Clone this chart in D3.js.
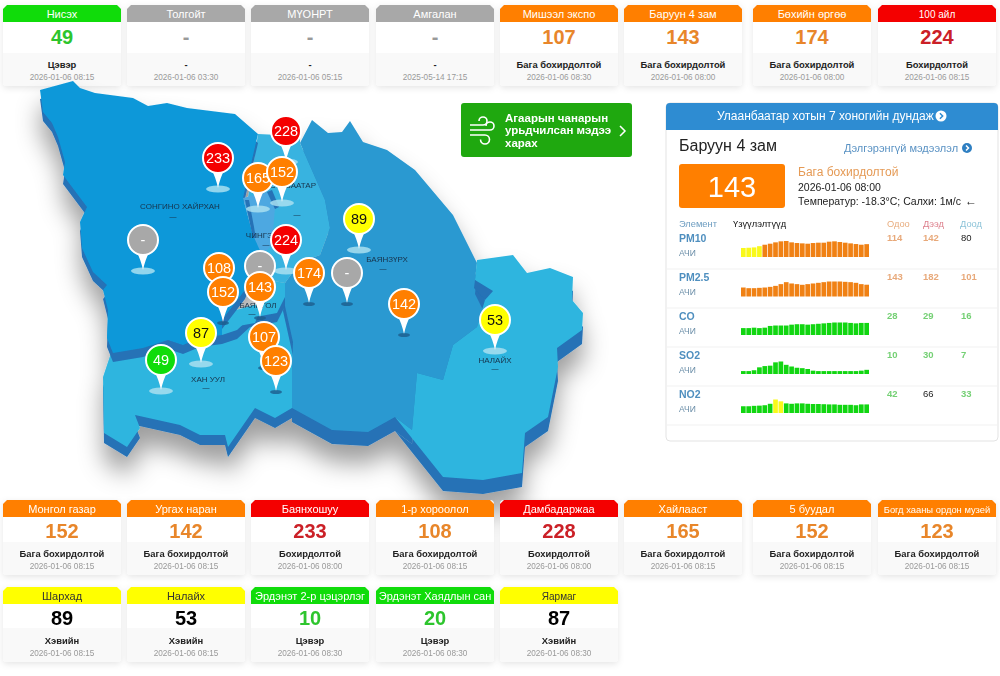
<!DOCTYPE html>
<html>
<head>
<meta charset="utf-8">
<title>Агаарын чанар</title>
<script src="https://cdn.jsdelivr.net/npm/d3@7"></script>
<style>
	html, body { margin: 0; padding: 0; background: #fff; overflow: hidden; }
	svg { display: block; }
	text { font-family: "Liberation Sans", Arial, sans-serif; }
</style>
</head>
<body>
<div id="div_id_main"></div>
<script>

// stations, as the cards read left to right, top to bottom
const g_dsNames = ["Нисэх", "Толгойт", "МҮОНРТ", "Амгалан", "Мишээл экспо", "Баруун 4 зам", "Бөхийн өргөө", "100 айл",
	"Монгол газар", "Ургах наран", "Баянхошуу", "1-р хороолол", "Дамбадаржаа", "Хайлааст", "5 буудал", "Богд хааны ордон музей",
	"Шархад", "Налайх", "Эрдэнэт 2-р цэцэрлэг", "Эрдэнэт Хаядлын сан", "Яармаг"];
const g_dsValues = ["49", "-", "-", "-", "107", "143", "174", "224",
	"152", "142", "233", "108", "228", "165", "152", "123",
	"89", "53", "10", "20", "87"];
const g_dsStatus = ["Цэвэр", "-", "-", "-", "Бага бохирдолтой", "Бага бохирдолтой", "Бага бохирдолтой", "Бохирдолтой",
	"Бага бохирдолтой", "Бага бохирдолтой", "Бохирдолтой", "Бага бохирдолтой", "Бохирдолтой", "Бага бохирдолтой", "Бага бохирдолтой", "Бага бохирдолтой",
	"Хэвийн", "Хэвийн", "Цэвэр", "Цэвэр", "Хэвийн"];
const g_dsTimes = ["2026-01-06 08:15", "2026-01-06 03:30", "2026-01-06 05:15", "2025-05-14 17:15", "2026-01-06 08:30", "2026-01-06 08:00", "2026-01-06 08:00", "2026-01-06 08:15",
	"2026-01-06 08:15", "2026-01-06 08:15", "2026-01-06 08:00", "2026-01-06 08:15", "2026-01-06 08:00", "2026-01-06 08:15", "2026-01-06 08:15", "2026-01-06 08:15",
	"2026-01-06 08:15", "2026-01-06 08:15", "2026-01-06 08:30", "2026-01-06 08:30", "2026-01-06 08:30"];

// elements of the side table
const g_dsElements = ["PM10", "PM2.5", "CO", "SO2", "NO2"];
const g_dsNow = [114, 143, 28, 10, 42];
const g_dsHigh = [142, 182, 29, 30, 66];
const g_dsLow = [80, 101, 16, 7, 33];
const g_dsPM10 = [80, 82, 85, 96, 109, 118, 130, 139, 142, 130, 124, 121, 118, 124, 127, 127, 136, 139, 133, 127, 121, 115, 109, 114];
const g_dsPM25 = [109, 101, 101, 105, 109, 117, 129, 150, 174, 158, 150, 142, 150, 158, 166, 174, 182, 182, 182, 178, 174, 166, 150, 143];
const g_dsCO = [16, 16, 17, 16, 17, 21, 22, 22, 22, 24, 25, 25, 24, 25, 26, 27, 28, 29, 29, 29, 28, 27, 28, 28];
const g_dsSO2 = [7, 7, 9, 16, 19, 20, 28, 30, 22, 18, 15, 14, 12, 8, 7, 7, 7, 7, 7, 7, 7, 7, 8, 10];
const g_dsNO2 = [33, 33, 35, 36, 38, 45, 66, 57, 47, 45, 47, 47, 45, 44, 44, 43, 42, 42, 40, 40, 40, 38, 42, 42];

// map pins: value, then x and y of the pin tip in map units
const g_dsPinValues = ["228", "233", "165", "152", "-", "224", "89", "108", "-", "174", "-", "143", "152", "142", "53", "87", "107", "49", "123"];
const g_dsPinX = [286, 218, 258, 282, 143, 286, 359, 219, 260, 309, 347, 260, 223, 404, 495, 201, 264, 161, 276];
const g_dsPinY = [161, 188, 208, 202, 270, 270, 249, 298, 296, 303, 303, 317, 322, 334, 350, 363, 367, 390, 391];

// district outlines, in map units
const g_dsKhanUul = [[112, 350], [103, 377], [104, 433], [127, 447], [140, 428], [135, 415], [180, 425], [200, 435], [225, 435], [228, 447], [255, 408], [275, 418], [292, 408], [297, 337], [283, 297], [200, 320]];
const g_dsBayanzurkh = [[312, 120], [328, 133], [342, 132], [350, 121], [363, 142], [387, 150], [415, 170], [453, 215], [477, 263], [475, 280], [485, 300], [477, 327], [453, 345], [443, 380], [417, 373], [412, 430], [395, 417], [368, 432], [332, 430], [292, 408], [292, 370], [293, 342], [283, 297], [285, 283], [300, 262], [320, 255], [330, 228], [325, 200], [300, 143]];
const g_dsNalaikh = [[477, 260], [513, 255], [527, 273], [550, 268], [573, 277], [572, 300], [583, 313], [582, 330], [557, 348], [558, 367], [548, 417], [525, 433], [522, 473], [483, 480], [443, 477], [395, 417], [412, 430], [417, 373], [443, 380], [453, 345], [477, 327], [485, 300], [475, 280]];
const g_dsSukhbaatar = [[258, 134], [300, 136], [300, 143], [325, 200], [330, 228], [320, 255], [300, 262], [285, 283], [268, 280], [262, 250], [247, 205]];
const g_dsBayangol = [[222, 320], [255, 314], [268, 280], [285, 283], [285, 297], [277, 313], [250, 318], [237, 330], [222, 335]];
const g_dsSongino = [[40, 90], [73, 81], [80, 88], [95, 93], [133, 98], [148, 106], [167, 103], [187, 108], [235, 114], [258, 134], [243, 198], [253, 235], [262, 250], [245, 290], [222, 320], [222, 335], [200, 338], [183, 345], [168, 340], [143, 348], [113, 353], [107, 338], [108, 310], [103, 290], [107, 285], [93, 272], [82, 248], [80, 222], [87, 207], [63, 175], [65, 162], [58, 137], [52, 123], [43, 112]];
const g_dsChingeltei = [[243, 198], [267, 192], [275, 207], [272, 245], [262, 255], [253, 235]];
const g_dsRidges = [
	[[475, 280], [493, 291], [485, 300], [474, 288]],
	[[245, 200], [249, 200], [256, 238], [253, 238]],
	[[267, 192], [272, 190], [279, 207], [275, 209]]
];

const g_dsPlaceNames = ["СОНГИНО ХАЙРХАН", "ХАН УУЛ", "БАЯНГОЛ", "СҮХБААТАР", "ЧИНГЭЛТЭЙ", "БАЯНЗҮРХ", "НАЛАЙХ"];
const g_dsPlaceX = [180, 208, 258, 293, 270, 387, 495];
const g_dsPlaceY = [206, 379, 305, 185, 235, 259, 360];
const g_dsPlaceDashX = [173, 206, 252, 297, 266, 383, 495];
const g_dsPlaceDashY = [217, 388, 314, 215, 245, 269, 369];

// layout -------------------------------------------------------------------

const CARD_LEFT = [3, 127, 251, 376, 500, 624, 753, 878];
const CARD_WIDTH = 118;
const ROW_TOP = [5, 500, 587];
const ROW_MIDDLE = [48, 42, 41];
const ROW_HEIGHT = [81, 75, 75];
const ROW_VALUE = [39, 38, 38];
const SPARK_BOTTOM = [257, 296.5, 335, 374, 413];
const SPARK_HEIGHT = [16, 15, 12.5, 12.5, 13.5];
const ROW_Y = [238, 277, 316, 355, 394];

const COLOR_GREEN = "#10dc0a";
const COLOR_YELLOW = "#ffff00";
const COLOR_ORANGE = "#ff7f00";
const COLOR_RED = "#f40000";
const COLOR_GRAY = "#a8a8a8";

function funcGetColor(sValue) {

	if (sValue == "-") return COLOR_GRAY;

	let n = +sValue;

	if (n <= 50) return COLOR_GREEN;
	if (n <= 100) return COLOR_YELLOW;
	if (n <= 200) return COLOR_ORANGE;

	return COLOR_RED;
}

function funcGetTextColor(sValue) {

	if (sValue == "-") return "#999";

	let n = +sValue;

	if (n <= 50) return "#2dc52d";
	if (n <= 100) return "#000";
	if (n <= 200) return "#e8862a";

	return "#cb2027";
}

function funcGetCardRow(i) {

	return i < 8 ? 0 : (i < 16 ? 1 : 2);
}

const svgMain = d3.select("#div_id_main")
	.append("svg")
		.attr("id", "svg_id_main")
		.attr("width", 1000)
		.attr("height", 676);

const defs = svgMain.append("defs");

defs.append("filter")
		.attr("id", "filter_card")
		.attr("x", "-10%").attr("y", "-10%").attr("width", "120%").attr("height", "125%")
	.append("feDropShadow")
		.attr("dx", 0).attr("dy", 2).attr("stdDeviation", 3)
		.attr("flood-color", "#000").attr("flood-opacity", 0.1);

defs.append("filter")
		.attr("id", "filter_map")
		.attr("x", "-15%").attr("y", "-15%").attr("width", "130%").attr("height", "140%")
	.append("feDropShadow")
		.attr("dx", 0).attr("dy", 18).attr("stdDeviation", 12)
		.attr("flood-color", "#000").attr("flood-opacity", 0.38);

// map ----------------------------------------------------------------------

const fScale_MapX = d3.scaleLinear().domain([30, 590]).range([30, 590]);
const fScale_MapY = d3.scaleLinear().domain([80, 490]).range([80, 490]);

const fLine_Map = d3.line()
	.x(function(d) { return fScale_MapX(d[0]); })
	.y(function(d) { return fScale_MapY(d[1]); })
	.curve(d3.curveLinearClosed);

function funcDraw_Map() {

	let gMap = svgMain.append("g")
		.attr("id", "g_id_map")
		.attr("filter", "url(#filter_map)");

	let vRegions = [
		{ shape: g_dsKhanUul, fill: "#2fb5df", depth: 10 },
		{ shape: g_dsBayanzurkh, fill: "#2c99d1", depth: 14 },
		{ shape: g_dsNalaikh, fill: "#2fb5df", depth: 14 },
		{ shape: g_dsSukhbaatar, fill: "#37b3e0", depth: 0 },
		{ shape: g_dsBayangol, fill: "#2fb5df", depth: 9 },
		{ shape: g_dsSongino, fill: "#0f98d9", depth: 9 },
		{ shape: g_dsChingeltei, fill: "#4ea8e1", depth: 0 }
	];

	vRegions.forEach(function(r) {

		if (r.depth > 0) {

			gMap.append("path")
				.attr("d", fLine_Map(r.shape))
				.attr("transform", "translate(0," + r.depth + ")")
				.attr("fill", "#2572b6");
		}

		gMap.append("path")
			.attr("d", fLine_Map(r.shape))
			.attr("fill", r.fill);
	});

	g_dsRidges.forEach(function(r) {

		gMap.append("path")
			.attr("d", fLine_Map(r))
			.attr("fill", "#2572b6");
	});

	// place names and their small dash
	g_dsPlaceNames.forEach(function(sName, i) {

		svgMain.append("text")
			.attr("x", fScale_MapX(g_dsPlaceX[i]))
			.attr("y", fScale_MapY(g_dsPlaceY[i]) + 3)
			.attr("text-anchor", "middle")
			.attr("font-size", 8)
			.attr("fill", "#17324a")
			.text(sName);

		svgMain.append("text")
			.attr("x", fScale_MapX(g_dsPlaceDashX[i]))
			.attr("y", fScale_MapY(g_dsPlaceDashY[i]) + 2)
			.attr("text-anchor", "middle")
			.attr("font-size", 7)
			.attr("fill", "#17324a")
			.text("—");
	});
}

function funcDraw_Pins() {

	let bLight = { "228": 1, "233": 1, "165": 1, "224": 1, "89": 1, "53": 1, "87": 1, "49": 1 };

	g_dsPinValues.forEach(function(sValue, i) {

		let g = svgMain.append("g")
			.attr("class", "g_class_pin")
			.attr("transform", "translate(" + fScale_MapX(g_dsPinX[i]) + "," + fScale_MapY(g_dsPinY[i]) + ")");

		let bIsLight = bLight[sValue] || (sValue == "-" && i == 4) || (sValue == "152" && i == 3);

		g.append("ellipse")
			.attr("cx", 0).attr("cy", 1)
			.attr("rx", bIsLight ? 12 : 6)
			.attr("ry", bIsLight ? 3.5 : 2)
			.attr("fill", bIsLight ? "#a9dff0" : "#1d5d8c")
			.attr("fill-opacity", bIsLight ? 0.85 : 0.8);

		g.append("path")
			.attr("d", "M-8,-22 Q-2,-10 0,0 Q2,-10 8,-22 Z")
			.attr("fill", "#fff");

		g.append("circle")
			.attr("cx", 0).attr("cy", -30)
			.attr("r", 15)
			.attr("fill", funcGetColor(sValue))
			.attr("stroke", "#fff")
			.attr("stroke-width", 2);

		g.append("text")
			.attr("x", 0).attr("y", -25)
			.attr("text-anchor", "middle")
			.attr("font-size", 14.5)
			.attr("fill", funcGetColor(sValue) == COLOR_YELLOW ? "#111" : "#fff")
			.text(sValue);
	});
}

// cards ---------------------------------------------------------------------

function funcDraw_Cards(nFrom, nTo) {

	g_dsNames.forEach(function(sName, i) {

		if (i < nFrom || i >= nTo) return;

		let nRow = funcGetCardRow(i);
		let nCol = nRow == 0 ? i : (nRow == 1 ? i - 8 : i - 16);
		let x = CARD_LEFT[nCol];
		let y = ROW_TOP[nRow];
		let cx = x + CARD_WIDTH / 2;
		let w = CARD_WIDTH;
		let h = ROW_HEIGHT[nRow];
		let m = ROW_MIDDLE[nRow];

		let g = svgMain.append("g").attr("class", "g_class_card");

		g.append("rect")
			.attr("x", x).attr("y", y)
			.attr("width", w).attr("height", h)
			.attr("rx", 4)
			.attr("fill", "#f9f9f9")
			.attr("filter", "url(#filter_card)");

		g.append("rect")
			.attr("x", x).attr("y", y + 17)
			.attr("width", w).attr("height", m - 17)
			.attr("fill", "#fff");

		g.append("path")
			.attr("d", d3.line()([[x, y + 17], [x, y + 4], [x + 4, y], [x + w - 4, y], [x + w, y + 4], [x + w, y + 17]]) + "Z")
			.attr("fill", funcGetColor(g_dsValues[i]));

		let nHeaderSize = 11;
		if (sName.length > 20) nHeaderSize = 9.4;
		else if (sName.length > 17) nHeaderSize = 11;
		else if (sName == "100 айл" || sName == "Яармаг") nHeaderSize = 10;

		g.append("text")
			.attr("x", cx).attr("y", y + 12.5)
			.attr("text-anchor", "middle")
			.attr("font-size", nHeaderSize)
			.attr("fill", funcGetColor(g_dsValues[i]) == COLOR_YELLOW ? "#333" : "#fff")
			.text(sName);

		g.append("text")
			.attr("x", cx).attr("y", y + ROW_VALUE[nRow])
			.attr("text-anchor", "middle")
			.attr("font-size", 20)
			.attr("font-weight", "bold")
			.attr("fill", funcGetTextColor(g_dsValues[i]))
			.text(g_dsValues[i]);

		g.append("text")
			.attr("x", cx).attr("y", y + h - 18)
			.attr("text-anchor", "middle")
			.attr("font-size", 9.4)
			.attr("font-weight", "bold")
			.attr("fill", "#222")
			.text(g_dsStatus[i]);

		g.append("text")
			.attr("x", cx).attr("y", y + h - 6)
			.attr("text-anchor", "middle")
			.attr("font-size", 8.2)
			.attr("fill", "#999")
			.text(g_dsTimes[i]);
	});
}

// green button --------------------------------------------------------------

function funcDraw_Button() {

	let g = svgMain.append("g").attr("id", "g_id_button");

	g.append("rect")
		.attr("x", 461).attr("y", 103)
		.attr("width", 171).attr("height", 54)
		.attr("rx", 3)
		.attr("fill", "#1fa80f");

	["M470 125 H483 a4 4 0 1 0 -4 -4", "M470 130 H490 a4 4 0 1 0 -4 -4", "M470 135 H485 a4.5 4.5 0 1 1 -4.5 4.5"].forEach(function(d) {

		g.append("path")
			.attr("d", d)
			.attr("fill", "none")
			.attr("stroke", "#fff")
			.attr("stroke-width", 1.6);
	});

	["Агаарын чанарын", "урьдчилсан мэдээ", "харах"].forEach(function(s, i) {

		g.append("text")
			.attr("x", 505).attr("y", 122 + i * 12.4)
			.attr("font-size", 11.5)
			.attr("font-weight", "bold")
			.attr("fill", "#fff")
			.text(s);
	});

	g.append("path")
		.attr("d", "M620 126 L625 131 L620 136")
		.attr("fill", "none")
		.attr("stroke", "#fff")
		.attr("stroke-width", 1.5);
}

// side panel ----------------------------------------------------------------

function funcDraw_ChevronCircle(g, x, y, r, color, colorInner) {

	g.append("circle")
		.attr("cx", x).attr("cy", y).attr("r", r)
		.attr("fill", color);

	g.append("path")
		.attr("d", "M" + (x - r * 0.2) + " " + (y - r * 0.5) + " l" + (r * 0.5) + " " + (r * 0.5) + " l" + (-r * 0.5) + " " + (r * 0.5))
		.attr("fill", "none")
		.attr("stroke", colorInner)
		.attr("stroke-width", 1.5);
}

function funcDraw_Panel() {

	let g = svgMain.append("g").attr("id", "g_id_panel");

	g.append("rect")
		.attr("x", 666).attr("y", 103)
		.attr("width", 332).attr("height", 338)
		.attr("rx", 4)
		.attr("fill", "#fff")
		.attr("stroke", "#e3e3e3");

	g.append("path")
		.attr("d", "M666 130 V107 Q666 103 670 103 H994 Q998 103 998 107 V130 Z")
		.attr("fill", "#2e8cd2");

	g.append("text")
		.attr("x", 717).attr("y", 120)
		.attr("font-size", 12)
		.attr("fill", "#fff")
		.text("Улаанбаатар хотын 7 хоногийн дундаж");

	funcDraw_ChevronCircle(g, 941, 116, 5.5, "#fff", "#2e8cd2");

	g.append("text")
		.attr("x", 679).attr("y", 151)
		.attr("font-size", 16)
		.attr("fill", "#222")
		.text("Баруун 4 зам");

	g.append("text")
		.attr("x", 844).attr("y", 152)
		.attr("font-size", 11)
		.attr("fill", "#5b93c4")
		.text("Дэлгэрэнгүй мэдээлэл");

	funcDraw_ChevronCircle(g, 967, 148, 5, "#2e7fc2", "#fff");

	g.append("rect")
		.attr("x", 679).attr("y", 164)
		.attr("width", 106).attr("height", 44)
		.attr("rx", 3)
		.attr("fill", COLOR_ORANGE);

	g.append("text")
		.attr("x", 732).attr("y", 197)
		.attr("text-anchor", "middle")
		.attr("font-size", 29)
		.attr("fill", "#fff")
		.text("143");

	g.append("text")
		.attr("x", 798).attr("y", 176)
		.attr("font-size", 12)
		.attr("fill", "#e59a55")
		.text("Бага бохирдолтой");

	g.append("text")
		.attr("x", 798).attr("y", 191)
		.attr("font-size", 10.5)
		.attr("fill", "#222")
		.text("2026-01-06 08:00");

	g.append("text")
		.attr("x", 798).attr("y", 205)
		.attr("font-size", 10.5)
		.attr("fill", "#222")
		.text("Температур: -18.3°C; Салхи: 1м/с");

	g.append("text")
		.attr("x", 965).attr("y", 205)
		.attr("font-size", 12)
		.attr("fill", "#222")
		.text("←");

	// table heads
	[["Элемент", 679, "#6b9cc0"], ["Үзүүлэлтүүд", 733, "#111"], ["Одоо", 887, "#e8ad7f"], ["Дээд", 923, "#dd7f8c"], ["Доод", 960, "#8cc3d8"]].forEach(function(d) {

		g.append("text")
			.attr("x", d[1]).attr("y", 227)
			.attr("font-size", 9.3)
			.attr("fill", d[2])
			.text(d[0]);
	});

	let vSeries = [g_dsPM10, g_dsPM25, g_dsCO, g_dsSO2, g_dsNO2];

	let fScale_Bar = d3.scaleBand()
		.domain(d3.range(24))
		.range([741, 869])
		.paddingInner(0.13);

	g_dsElements.forEach(function(sElement, i) {

		let y = ROW_Y[i];

		g.append("text")
			.attr("x", 679).attr("y", y + 4)
			.attr("font-size", 10.5)
			.attr("font-weight", "bold")
			.attr("fill", "#4f8fbf")
			.text(sElement);

		g.append("text")
			.attr("x", 679).attr("y", y + 18)
			.attr("font-size", 8.5)
			.attr("fill", "#6b8ea8")
			.text("АЧИ");

		[[g_dsNow[i], 887], [g_dsHigh[i], 923], [g_dsLow[i], 961]].forEach(function(d) {

			let c = "#e8a97a";
			if (d[0] <= 50) c = "#74d074";
			else if (d[0] <= 100) c = "#222";

			g.append("text")
				.attr("x", d[1]).attr("y", y + 3)
				.attr("font-size", 9.5)
				.attr("font-weight", d[0] <= 100 && d[0] > 50 ? "normal" : "bold")
				.attr("fill", c)
				.text(d[0]);
		});

		let fScale_Height = d3.scaleLinear()
			.domain([0, d3.max(vSeries[i])])
			.range([0, SPARK_HEIGHT[i]]);

		g.selectAll("rect.rect_class_bar_" + i)
			.data(vSeries[i])
			.enter()
				.append("rect")
					.attr("class", "rect_class_bar_" + i)
					.attr("x", function(d, j) { return fScale_Bar(j); })
					.attr("y", function(d) { return SPARK_BOTTOM[i] - fScale_Height(d); })
					.attr("width", fScale_Bar.bandwidth())
					.attr("height", function(d) { return fScale_Height(d); })
					.attr("fill", function(d) {
						if (d <= 50) return "#11d611";
						if (d <= 100) return "#f9f91a";
						return "#f08114";
					});

		g.append("line")
			.attr("x1", 667).attr("x2", 997)
			.attr("y1", y + 31).attr("y2", y + 31)
			.attr("stroke", "#f1f1f1");
	});
}

funcDraw_Cards(0, 8);
funcDraw_Map();
funcDraw_Pins();
funcDraw_Cards(8, g_dsNames.length);
funcDraw_Button();
funcDraw_Panel();

</script>
</body>
</html>
